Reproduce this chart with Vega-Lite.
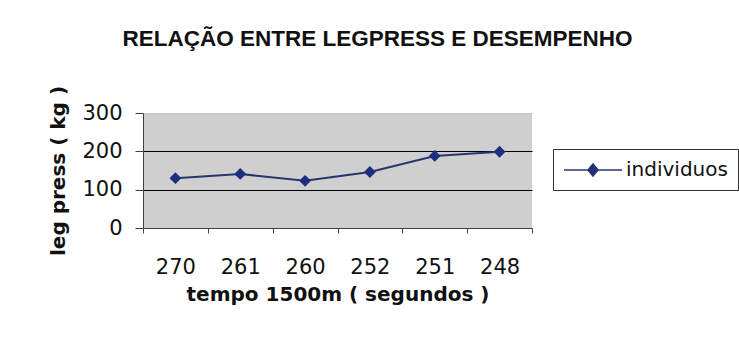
{
  "$schema": "https://vega.github.io/schema/vega-lite/v6.json",
  "autosize": {"type": "none"},
  "width": 389,
  "height": 115,
  "padding": {"left": 143, "top": 113, "right": 207, "bottom": 124},
  "background": "white",
  "title": {
    "text": "RELAÇÃO ENTRE LEGPRESS E DESEMPENHO",
    "font": "Liberation Sans",
    "fontSize": 22.5,
    "fontWeight": "bold",
    "color": "#111111",
    "anchor": "middle",
    "dx": 40,
    "offset": 35
  },
  "data": {
    "values": [
      {"tempo": "270", "legpress": 130, "serie": "individuos"},
      {"tempo": "261", "legpress": 141, "serie": "individuos"},
      {"tempo": "260", "legpress": 123, "serie": "individuos"},
      {"tempo": "252", "legpress": 146, "serie": "individuos"},
      {"tempo": "251", "legpress": 188, "serie": "individuos"},
      {"tempo": "248", "legpress": 199, "serie": "individuos"}
    ]
  },
  "encoding": {
    "x": {
      "field": "tempo",
      "type": "ordinal",
      "sort": null,
      "bandPosition": 0.5,
      "scale": {"type": "band", "paddingInner": 0, "paddingOuter": 0},
      "axis": {
        "title": "tempo 1500m ( segundos )",
        "labelAngle": 0,
        "tickBand": "extent",
        "tickSize": 5,
        "labelPadding": 23,
        "labelFontSize": 21,
        "labelFont": "DejaVu Sans",
        "labelColor": "#111111",
        "titleFont": "DejaVu Sans",
        "titleFontSize": 20,
        "titleFontWeight": "bold",
        "titleColor": "#111111",
        "titlePadding": 7,
        "domainColor": "#404040",
        "tickColor": "#404040",
        "grid": false
      }
    },
    "y": {
      "field": "legpress",
      "type": "quantitative",
      "scale": {"domain": [0, 300], "nice": false},
      "axis": {
        "title": "leg press ( kg )",
        "values": [0, 100, 200, 300],
        "tickSize": 8,
        "labelPadding": 13,
        "labelFontSize": 21,
        "labelFont": "DejaVu Sans",
        "labelColor": "#111111",
        "titleFont": "DejaVu Sans",
        "titleFontSize": 20,
        "titleFontWeight": "bold",
        "titleColor": "#111111",
        "titlePadding": 13,
        "domainColor": "#404040",
        "tickColor": "#404040",
        "grid": true,
        "gridColor": {"condition": {"test": "datum.value === 300 || datum.value === 0", "value": "#c8c8c8"}, "value": "#000000"},
        "gridWidth": 1
      }
    }
  },
  "layer": [
    {
      "mark": {"type": "line", "strokeWidth": 2},
      "encoding": {
        "color": {
          "field": "serie",
          "type": "nominal",
          "scale": {"range": ["#2a3470"]},
          "legend": {
            "title": null,
            "orient": "none",
            "legendX": 410,
            "legendY": 36,
            "strokeColor": "#333333",
            "padding": 10,
            "labelFont": "DejaVu Sans",
            "labelFontSize": 20,
            "labelColor": "#111111",
            "labelOffset": 41,
            "symbolType": "M-1,0L4.8,0M1.9,-0.6L2.4,0L1.9,0.6L1.4,0Z",
            "symbolSize": 400,
            "symbolStrokeWidth": 1.5,
            "symbolFillColor": "#1c2f7d",
            "symbolStrokeColor": "#2a3470"
          }
        }
      }
    },
    {
      "mark": {"type": "point", "shape": "diamond", "filled": true, "size": 140, "color": "#1c2f7d", "opacity": 1}
    }
  ],
  "config": {
    "view": {"fill": "#cfcfcf", "stroke": null}
  }
}
